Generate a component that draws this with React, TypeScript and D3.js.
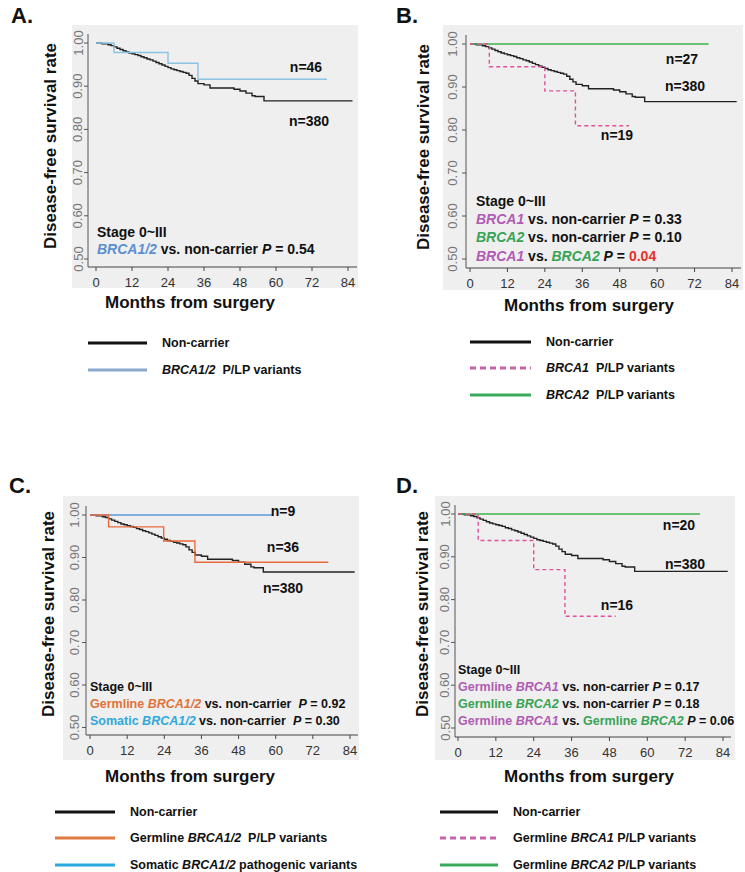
import React from "react";
import * as d3 from "d3";

// axis ticks
const monthTicks = [0, 12, 24, 36, 48, 60, 72, 84];
const rateTicks = [0.5, 0.6, 0.7, 0.8, 0.9, 1.0];

// Kaplan-Meier steps: [month, survival]
const nonCarrier: [number, number][] = [
  [0, 1.0], [2, 0.998], [4, 0.996], [5, 0.994], [6, 0.991], [7, 0.988], [8, 0.985],
  [9, 0.982], [10, 0.979], [11, 0.977], [12, 0.975], [13, 0.973], [14, 0.971],
  [15, 0.968], [16, 0.966], [17, 0.963], [18, 0.961], [19, 0.958], [20, 0.955],
  [21, 0.952], [22, 0.949], [23, 0.946], [24, 0.943], [25, 0.94], [26, 0.938],
  [27, 0.936], [28, 0.934], [29, 0.932], [30, 0.93], [31, 0.925], [32, 0.918],
  [33, 0.912], [34, 0.906], [36, 0.903], [38, 0.896], [46, 0.893], [48, 0.889],
  [50, 0.884], [52, 0.878], [53, 0.876], [56, 0.866], [85.5, 0.866],
];
const brca12: [number, number][] = [[0, 1], [6, 0.978], [24, 0.953], [34, 0.916], [77, 0.916]];
const brca1: [number, number][] = [[0, 1], [6.2, 0.947], [24, 0.891], [33.8, 0.81], [51, 0.81]];
const brca2: [number, number][] = [[0, 1], [76.5, 1]];
const germline12: [number, number][] = [[0, 1], [6, 0.972], [23.8, 0.939], [33.9, 0.889], [77, 0.889]];
const somatic12: [number, number][] = [[0, 1], [59, 1]];
const gBrca1: [number, number][] = [[0, 1], [6.4, 0.938], [24, 0.87], [33.9, 0.761], [50, 0.761]];
const gBrca2: [number, number][] = [[0, 1], [76.7, 1]];

const FONT = "'Liberation Sans', Arial, Helvetica, sans-serif";
const NARROW = "'Liberation Sans Narrow', 'Arial Narrow', 'Liberation Sans', Arial, sans-serif";

const BLACK = "#222";
const PURPLE = "#b05cb4";
const GREEN = "#38a356";
const PINK = "#e2519c";

type Seg = { t: string; c?: string; i?: boolean };
type Curve = { data: [number, number][]; color: string; dash?: string; w?: number };
type LegendItem = { color: string; dash?: string; segs: Seg[] };

type PanelCfg = {
  label: string; lx: number; ly: number;
  bg: [number, number, number, number];
  axisX: number; x0: number; x84: number; y100: number; y050: number;
  xAxisY: number; xAxisEnd: number; yTickX: number; xTickY: number;
  yTitleX: number; yTitleY: number; xTitleX: number; xTitleY: number;
  curves: Curve[];
  nLabels: { t: string; x: number; y: number }[];
  notes: { x: number; ys: number[]; fs: number; lines: Seg[][] };
  legend: { x1: number; x2: number; tx: number; ys: number[]; items: LegendItem[] };
};

const panels: PanelCfg[] = [
  {
    label: "A.", lx: 11, ly: 23, bg: [72, 25, 358, 288],
    axisX: 88, x0: 96, x84: 348, y100: 43, y050: 259, xAxisY: 267, xAxisEnd: 357,
    yTickX: 78, xTickY: 282, yTitleX: 50, yTitleY: 146, xTitleX: 190, xTitleY: 308,
    curves: [
      { data: nonCarrier, color: BLACK },
      { data: brca12, color: "#8cc2e4" },
    ],
    nLabels: [{ t: "n=46", x: 306, y: 67 }, { t: "n=380", x: 309, y: 121 }],
    notes: {
      x: 97, ys: [237, 254], fs: 14,
      lines: [
        [{ t: "Stage 0~III" }],
        [{ t: "BRCA1/2", c: "#5b8fd0", i: true }, { t: " vs. non-carrier " }, { t: "P", i: true }, { t: " = 0.54" }],
      ],
    },
    legend: {
      x1: 88, x2: 147, tx: 162, ys: [343, 370],
      items: [
        { color: "#111", segs: [{ t: "Non-carrier" }] },
        { color: "#8aa8cc", segs: [{ t: "BRCA1/2", i: true }, { t: "  P/LP variants" }] },
      ],
    },
  },
  {
    label: "B.", lx: 396, ly: 23, bg: [443, 25, 743, 290],
    axisX: 466, x0: 470, x84: 732, y100: 44, y050: 259, xAxisY: 268, xAxisEnd: 741,
    yTickX: 452, xTickY: 283, yTitleX: 423, yTitleY: 147, xTitleX: 589, xTitleY: 311,
    curves: [
      { data: nonCarrier, color: BLACK },
      { data: brca2, color: "#3db54a" },
      { data: brca1, color: PINK, dash: "4,3" },
    ],
    nLabels: [{ t: "n=27", x: 682, y: 59 }, { t: "n=380", x: 685, y: 86 }, { t: "n=19", x: 617, y: 135 }],
    notes: {
      x: 476, ys: [206, 224, 242, 261], fs: 14,
      lines: [
        [{ t: "Stage 0~III" }],
        [{ t: "BRCA1", c: PURPLE, i: true }, { t: " vs. non-carrier " }, { t: "P", i: true }, { t: " = 0.33" }],
        [{ t: "BRCA2", c: GREEN, i: true }, { t: " vs. non-carrier " }, { t: "P", i: true }, { t: " = 0.10" }],
        [{ t: "BRCA1", c: PURPLE, i: true }, { t: " vs. " }, { t: "BRCA2", c: GREEN, i: true }, { t: " " }, { t: "P", i: true }, { t: " = " }, { t: "0.04", c: "#e8302a" }],
      ],
    },
    legend: {
      x1: 470, x2: 531, tx: 546, ys: [342, 368, 395],
      items: [
        { color: "#111", segs: [{ t: "Non-carrier" }] },
        { color: "#c763aa", dash: "6,4", segs: [{ t: "BRCA1", i: true }, { t: "  P/LP variants" }] },
        { color: "#3aaa5c", segs: [{ t: "BRCA2", i: true }, { t: "  P/LP variants" }] },
      ],
    },
  },
  {
    label: "C.", lx: 9, ly: 493, bg: [63, 496, 359, 760],
    axisX: 86, x0: 90, x84: 350, y100: 515, y050: 727.5, xAxisY: 735, xAxisEnd: 358,
    yTickX: 74, xTickY: 750, yTitleX: 48, yTitleY: 614, xTitleX: 190, xTitleY: 782,
    curves: [
      { data: nonCarrier, color: BLACK },
      { data: somatic12, color: "#5a9ad6" },
      { data: germline12, color: "#ec6a3c" },
    ],
    nLabels: [{ t: "n=9", x: 283, y: 511 }, { t: "n=36", x: 283, y: 547 }, { t: "n=380", x: 283, y: 588 }],
    notes: {
      x: 90, ys: [691, 708, 725], fs: 12.5,
      lines: [
        [{ t: "Stage 0~III" }],
        [{ t: "Germline ", c: "#e0733a" }, { t: "BRCA1/2", c: "#e0733a", i: true }, { t: " vs. non-carrier  " }, { t: "P", i: true }, { t: " = 0.92" }],
        [{ t: "Somatic ", c: "#30a8dc" }, { t: "BRCA1/2", c: "#30a8dc", i: true }, { t: " vs. non-carrier  " }, { t: "P", i: true }, { t: " = 0.30" }],
      ],
    },
    legend: {
      x1: 55, x2: 115, tx: 130, ys: [812, 838, 865],
      items: [
        { color: "#111", segs: [{ t: "Non-carrier" }] },
        { color: "#e07a40", segs: [{ t: "Germline " }, { t: "BRCA1/2", i: true }, { t: "  P/LP variants" }] },
        { color: "#2aa8e0", segs: [{ t: "Somatic " }, { t: "BRCA1/2", i: true }, { t: " pathogenic variants" }] },
      ],
    },
  },
  {
    label: "D.", lx: 396, ly: 493, bg: [435, 496, 735, 760],
    axisX: 455, x0: 458, x84: 723, y100: 514, y050: 728, xAxisY: 737, xAxisEnd: 731,
    yTickX: 445, xTickY: 752, yTitleX: 422, yTitleY: 614, xTitleX: 589, xTitleY: 782,
    curves: [
      { data: nonCarrier, color: BLACK },
      { data: gBrca2, color: "#3db54a" },
      { data: gBrca1, color: PINK, dash: "4,3" },
    ],
    nLabels: [{ t: "n=20", x: 679, y: 525 }, { t: "n=380", x: 685, y: 564 }, { t: "n=16", x: 617, y: 605 }],
    notes: {
      x: 458, ys: [674, 691, 708, 725], fs: 12.5,
      lines: [
        [{ t: "Stage 0~III" }],
        [{ t: "Germline ", c: PURPLE }, { t: "BRCA1", c: PURPLE, i: true }, { t: " vs. non-carrier " }, { t: "P", i: true }, { t: " = 0.17" }],
        [{ t: "Germline ", c: GREEN }, { t: "BRCA2", c: GREEN, i: true }, { t: " vs. non-carrier " }, { t: "P", i: true }, { t: " = 0.18" }],
        [{ t: "Germline ", c: PURPLE }, { t: "BRCA1", c: PURPLE, i: true }, { t: " vs. " }, { t: "Germline ", c: GREEN }, { t: "BRCA2", c: GREEN, i: true }, { t: " " }, { t: "P", i: true }, { t: " = 0.06" }],
      ],
    },
    legend: {
      x1: 440, x2: 498, tx: 513, ys: [812, 838, 865],
      items: [
        { color: "#111", segs: [{ t: "Non-carrier" }] },
        { color: "#c763aa", dash: "6,4", segs: [{ t: "Germline " }, { t: "BRCA1", i: true }, { t: " P/LP variants" }] },
        { color: "#3aaa5c", segs: [{ t: "Germline " }, { t: "BRCA2", i: true }, { t: " P/LP variants" }] },
      ],
    },
  },
];

function Segs({ segs }: { segs: Seg[] }) {
  return (
    <>
      {segs.map((s, k) => (
        <tspan key={k} fill={s.c || "#111"} fontStyle={s.i ? "italic" : "normal"} style={{ whiteSpace: "pre" }}>
          {s.t}
        </tspan>
      ))}
    </>
  );
}

function Panel({ p }: { p: PanelCfg }) {
  const x = d3.scaleLinear().domain([0, 84]).range([p.x0, p.x84]);
  const y = d3.scaleLinear().domain([0.5, 1.0]).range([p.y050, p.y100]);
  const line = d3.line<[number, number]>()
    .x((d) => x(d[0]))
    .y((d) => y(d[1]))
    .curve(d3.curveStepAfter);

  return (
    <g>
      <text x={p.lx} y={p.ly} fontFamily={FONT} fontWeight="bold" fontSize={22} fill="#111">{p.label}</text>
      <rect x={p.bg[0]} y={p.bg[1]} width={p.bg[2] - p.bg[0]} height={p.bg[3] - p.bg[1]} fill="#efefef" />

      {/* axes, L shaped */}
      <line x1={p.axisX} x2={p.axisX} y1={p.y100 - 9} y2={p.xAxisY} stroke="#555" strokeWidth={1} />
      <line x1={p.axisX} x2={p.xAxisEnd} y1={p.xAxisY} y2={p.xAxisY} stroke="#444" strokeWidth={1} />
      {rateTicks.map((t) => (
        <g key={t}>
          <line x1={p.axisX - 4} x2={p.axisX} y1={y(t)} y2={y(t)} stroke="#555" />
          <text
            x={p.yTickX} y={y(t)} transform={`rotate(-90 ${p.yTickX} ${y(t)})`}
            textAnchor="middle" dominantBaseline="central"
            fontFamily={FONT} fontSize={13} fill="#777"
          >
            {t.toFixed(2)}
          </text>
        </g>
      ))}
      {monthTicks.map((t) => (
        <g key={t}>
          <line x1={x(t)} x2={x(t)} y1={p.xAxisY} y2={p.xAxisY + 4} stroke="#444" />
          <text x={x(t)} y={p.xTickY} textAnchor="middle" dominantBaseline="central"
            fontFamily={NARROW} fontSize={13} fill="#333">{t}</text>
        </g>
      ))}

      <text
        x={p.yTitleX} y={p.yTitleY} transform={`rotate(-90 ${p.yTitleX} ${p.yTitleY})`}
        textAnchor="middle" dominantBaseline="central"
        fontFamily={FONT} fontWeight="bold" fontSize={17} fill="#111"
      >
        Disease-free survival rate
      </text>
      <text x={p.xTitleX} y={p.xTitleY} textAnchor="middle" fontFamily={FONT} fontWeight="bold" fontSize={17} fill="#111">
        Months from surgery
      </text>

      {p.curves.map((c, k) => (
        <path key={k} d={line(c.data) || ""} fill="none" stroke={c.color}
          strokeWidth={c.w || 1.4} strokeDasharray={c.dash} />
      ))}

      {p.nLabels.map((n) => (
        <text key={n.t} x={n.x} y={n.y} textAnchor="middle" dominantBaseline="central"
          fontFamily={FONT} fontWeight="bold" fontSize={14} fill="#111">{n.t}</text>
      ))}

      {p.notes.lines.map((ln, k) => (
        <text key={k} x={p.notes.x} y={p.notes.ys[k]} fontFamily={FONT} fontWeight="bold" fontSize={p.notes.fs}>
          <Segs segs={ln} />
        </text>
      ))}

      {p.legend.items.map((it, k) => (
        <g key={k}>
          <line x1={p.legend.x1} x2={p.legend.x2} y1={p.legend.ys[k]} y2={p.legend.ys[k]}
            stroke={it.color} strokeWidth={3} strokeDasharray={it.dash} />
          <text x={p.legend.tx} y={p.legend.ys[k]} dominantBaseline="central"
            fontFamily={FONT} fontWeight="bold" fontSize={12.5}>
            <Segs segs={it.segs} />
          </text>
        </g>
      ))}
    </g>
  );
}

export default function App() {
  return (
    <svg width={745} height={872} style={{ position: "absolute", left: 0, top: 0, background: "#fff" }}>
      {panels.map((p) => <Panel key={p.label} p={p} />)}
    </svg>
  );
}
